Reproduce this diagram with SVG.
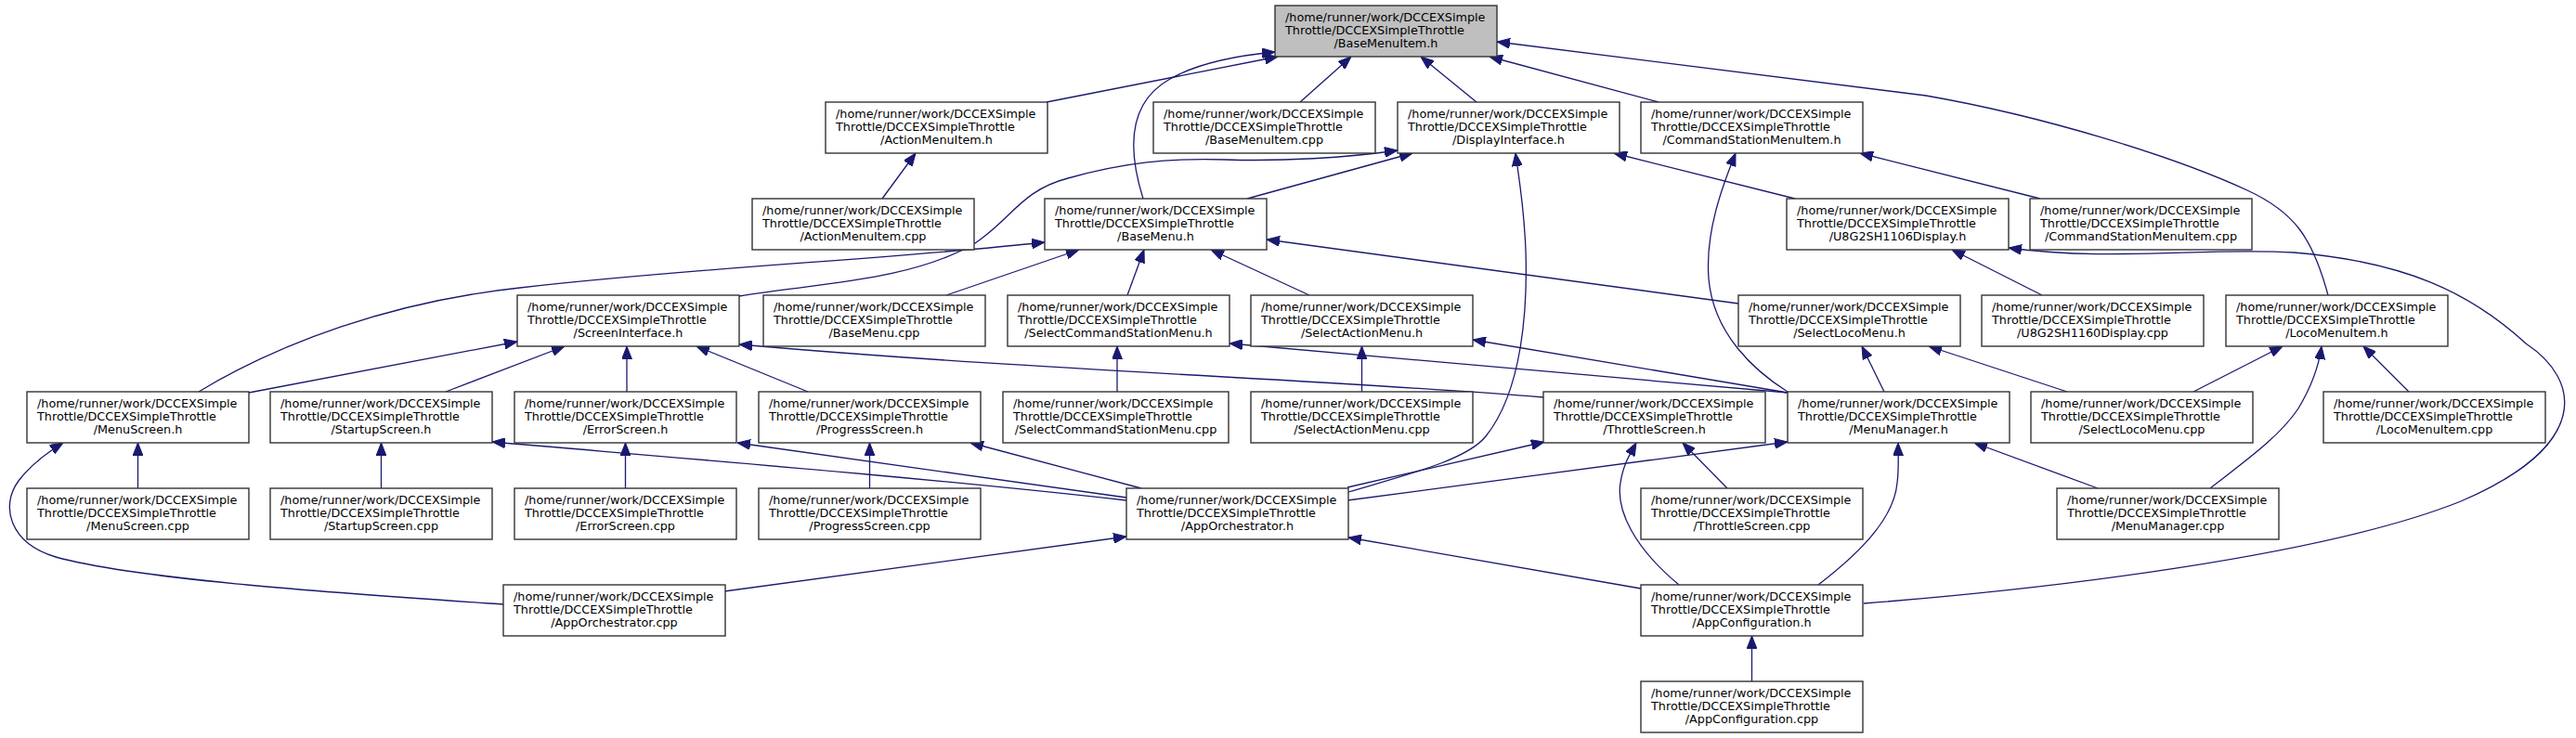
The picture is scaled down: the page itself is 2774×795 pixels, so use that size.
<svg xmlns="http://www.w3.org/2000/svg" width="2774" height="795" viewBox="0 0 2774 795">
<style>
.node rect{fill:#ffffff;stroke:#333333;stroke-width:1.4}
.node rect.root{fill:#bfbfbf}
.node text{font-family:"DejaVu Sans",sans-serif;font-size:12.8px;fill:#000000;transform:translateY(-0.8px)}
.node text.c{text-anchor:middle}
.edges path{fill:none;stroke:#191970;stroke-width:1.3;marker-end:url(#a)}
</style>
<defs>
<marker id="a" viewBox="0 0 14 11" refX="14" refY="5.5" markerWidth="14" markerHeight="11" markerUnits="userSpaceOnUse" orient="auto"><path d="M0,0 L14,5.5 L0,11 z" fill="#191970" stroke="#191970" stroke-width="1"/></marker>
</defs>
<rect width="2774" height="795" fill="#ffffff"/>
<g class="edges" id="edges">
<path d="M1127,110 L1376,61"/>
<path d="M1231,214 C1214,160 1215,110 1260,85 C1290,68 1330,60 1373,56"/>
<path d="M1400,110 L1455,61"/>
<path d="M1590,110 L1530,61"/>
<path d="M1786,110 L1604,61"/>
<path d="M2507,318 C2490,255 2470,228 2420,205 C2340,168 2200,125 2074,103 L1612,45"/>
<path d="M950,214 L986,165"/>
<path d="M796,319 C880,305 980,303 1050,262 C1090,235 1100,205 1150,192 C1210,175 1260,170 1320,172 C1380,174 1450,170 1505,162"/>
<path d="M1343,214 L1521,165"/>
<path d="M1933,214 L1738,165"/>
<path d="M1452,530 C1520,510 1580,495 1600,470 C1640,420 1645,330 1643,270 C1641,220 1636,195 1632,165"/>
<path d="M2197,214 L2003,165"/>
<path d="M1925,422 C1890,400 1845,360 1840,300 C1836,250 1855,200 1869,165"/>
<path d="M1019,318 L1162,269"/>
<path d="M1214,318 L1232,269"/>
<path d="M1410,318 L1304,269"/>
<path d="M1872,327 L1364,258"/>
<path d="M214,422 C300,370 420,325 560,310 C750,288 950,280 1125,261"/>
<path d="M268,423 L557,368"/>
<path d="M480,422 L608,373"/>
<path d="M675,422 L675,373"/>
<path d="M870,422 L750,373"/>
<path d="M1662,428 C1450,410 1100,398 796,371"/>
<path d="M148.5,526 L148.5,477"/>
<path d="M542,651 C380,640 150,625 60,600 C10,585 0,545 20,518 C32,502 50,488 68,477"/>
<path d="M410.5,526 L410.5,477"/>
<path d="M673.5,526 L673.5,477"/>
<path d="M936.5,526 L936.5,477"/>
<path d="M1203,422 L1203,373"/>
<path d="M1466.5,422 L1466.5,373"/>
<path d="M1213,539 C1000,515 750,495 530,476"/>
<path d="M1213,536 L794,477"/>
<path d="M1229,526 L1045,477"/>
<path d="M780,637 L1213,578"/>
<path d="M1451,525 L1663,476"/>
<path d="M1451,539 L1925,476"/>
<path d="M1860,526 L1812,477"/>
<path d="M1808,630 C1760,590 1740,550 1745,520 C1748,500 1755,490 1762,477"/>
<path d="M1958,630 C2010,590 2040,555 2043,520 C2045,505 2044,490 2044,477"/>
<path d="M1767,634 L1452,579"/>
<path d="M1886.5,734 L1886.5,685"/>
<path d="M2007,650 C2200,635 2500,600 2650,540 C2790,480 2780,410 2720,370 C2660,315 2590,282 2470,272 C2380,266 2270,282 2163,267"/>
<path d="M2199,318 L2102,269"/>
<path d="M2259,526 L2126,477"/>
<path d="M2380,526 C2420,495 2455,470 2475,440 C2490,415 2497,395 2500,373"/>
<path d="M2226,422 L2077,373"/>
<path d="M2362,422 L2458,373"/>
<path d="M2594,422 L2545,373"/>
<path d="M2029,422 L2005,373"/>
<path d="M1925,423 L1586,366"/>
<path d="M1925,423 L1324,370"/>
</g>
<g class="node" id="BaseMenuItem_h"><rect class="root" x="1373" y="6" width="239" height="55"/><text x="1384" y="24">/home/runner/work/DCCEXSimple</text><text x="1384" y="37.7">Throttle/DCCEXSimpleThrottle</text><text class="c" x="1492.5" y="51.4">/BaseMenuItem.h</text></g>
<g class="node" id="ActionMenuItem_h"><rect x="889" y="110" width="239" height="55"/><text x="900" y="128">/home/runner/work/DCCEXSimple</text><text x="900" y="141.7">Throttle/DCCEXSimpleThrottle</text><text class="c" x="1008.5" y="155.4">/ActionMenuItem.h</text></g>
<g class="node" id="BaseMenuItem_cpp"><rect x="1242" y="110" width="239" height="55"/><text x="1253" y="128">/home/runner/work/DCCEXSimple</text><text x="1253" y="141.7">Throttle/DCCEXSimpleThrottle</text><text class="c" x="1361.5" y="155.4">/BaseMenuItem.cpp</text></g>
<g class="node" id="DisplayInterface_h"><rect x="1505" y="110" width="239" height="55"/><text x="1516" y="128">/home/runner/work/DCCEXSimple</text><text x="1516" y="141.7">Throttle/DCCEXSimpleThrottle</text><text class="c" x="1624.5" y="155.4">/DisplayInterface.h</text></g>
<g class="node" id="CommandStationMenuItem_h"><rect x="1767" y="110" width="239" height="55"/><text x="1778" y="128">/home/runner/work/DCCEXSimple</text><text x="1778" y="141.7">Throttle/DCCEXSimpleThrottle</text><text class="c" x="1886.5" y="155.4">/CommandStationMenuItem.h</text></g>
<g class="node" id="ActionMenuItem_cpp"><rect x="810" y="214" width="239" height="55"/><text x="821" y="232">/home/runner/work/DCCEXSimple</text><text x="821" y="245.7">Throttle/DCCEXSimpleThrottle</text><text class="c" x="929.5" y="259.4">/ActionMenuItem.cpp</text></g>
<g class="node" id="BaseMenu_h"><rect x="1125" y="214" width="239" height="55"/><text x="1136" y="232">/home/runner/work/DCCEXSimple</text><text x="1136" y="245.7">Throttle/DCCEXSimpleThrottle</text><text class="c" x="1244.5" y="259.4">/BaseMenu.h</text></g>
<g class="node" id="U8G2SH1106Display_h"><rect x="1924" y="214" width="239" height="55"/><text x="1935" y="232">/home/runner/work/DCCEXSimple</text><text x="1935" y="245.7">Throttle/DCCEXSimpleThrottle</text><text class="c" x="2043.5" y="259.4">/U8G2SH1106Display.h</text></g>
<g class="node" id="CommandStationMenuItem_cpp"><rect x="2186" y="214" width="239" height="55"/><text x="2197" y="232">/home/runner/work/DCCEXSimple</text><text x="2197" y="245.7">Throttle/DCCEXSimpleThrottle</text><text class="c" x="2305.5" y="259.4">/CommandStationMenuItem.cpp</text></g>
<g class="node" id="ScreenInterface_h"><rect x="557" y="318" width="239" height="55"/><text x="568" y="336">/home/runner/work/DCCEXSimple</text><text x="568" y="349.7">Throttle/DCCEXSimpleThrottle</text><text class="c" x="676.5" y="363.4">/ScreenInterface.h</text></g>
<g class="node" id="BaseMenu_cpp"><rect x="822" y="318" width="239" height="55"/><text x="833" y="336">/home/runner/work/DCCEXSimple</text><text x="833" y="349.7">Throttle/DCCEXSimpleThrottle</text><text class="c" x="941.5" y="363.4">/BaseMenu.cpp</text></g>
<g class="node" id="SelectCommandStationMenu_h"><rect x="1085" y="318" width="239" height="55"/><text x="1096" y="336">/home/runner/work/DCCEXSimple</text><text x="1096" y="349.7">Throttle/DCCEXSimpleThrottle</text><text class="c" x="1204.5" y="363.4">/SelectCommandStationMenu.h</text></g>
<g class="node" id="SelectActionMenu_h"><rect x="1347" y="318" width="239" height="55"/><text x="1358" y="336">/home/runner/work/DCCEXSimple</text><text x="1358" y="349.7">Throttle/DCCEXSimpleThrottle</text><text class="c" x="1466.5" y="363.4">/SelectActionMenu.h</text></g>
<g class="node" id="SelectLocoMenu_h"><rect x="1872" y="318" width="239" height="55"/><text x="1883" y="336">/home/runner/work/DCCEXSimple</text><text x="1883" y="349.7">Throttle/DCCEXSimpleThrottle</text><text class="c" x="1991.5" y="363.4">/SelectLocoMenu.h</text></g>
<g class="node" id="U8G2SH1160Display_cpp"><rect x="2134" y="318" width="239" height="55"/><text x="2145" y="336">/home/runner/work/DCCEXSimple</text><text x="2145" y="349.7">Throttle/DCCEXSimpleThrottle</text><text class="c" x="2253.5" y="363.4">/U8G2SH1160Display.cpp</text></g>
<g class="node" id="LocoMenuItem_h"><rect x="2397" y="318" width="239" height="55"/><text x="2408" y="336">/home/runner/work/DCCEXSimple</text><text x="2408" y="349.7">Throttle/DCCEXSimpleThrottle</text><text class="c" x="2516.5" y="363.4">/LocoMenuItem.h</text></g>
<g class="node" id="MenuScreen_h"><rect x="29" y="422" width="239" height="55"/><text x="40" y="440">/home/runner/work/DCCEXSimple</text><text x="40" y="453.7">Throttle/DCCEXSimpleThrottle</text><text class="c" x="148.5" y="467.4">/MenuScreen.h</text></g>
<g class="node" id="StartupScreen_h"><rect x="291" y="422" width="239" height="55"/><text x="302" y="440">/home/runner/work/DCCEXSimple</text><text x="302" y="453.7">Throttle/DCCEXSimpleThrottle</text><text class="c" x="410.5" y="467.4">/StartupScreen.h</text></g>
<g class="node" id="ErrorScreen_h"><rect x="554" y="422" width="239" height="55"/><text x="565" y="440">/home/runner/work/DCCEXSimple</text><text x="565" y="453.7">Throttle/DCCEXSimpleThrottle</text><text class="c" x="673.5" y="467.4">/ErrorScreen.h</text></g>
<g class="node" id="ProgressScreen_h"><rect x="817" y="422" width="239" height="55"/><text x="828" y="440">/home/runner/work/DCCEXSimple</text><text x="828" y="453.7">Throttle/DCCEXSimpleThrottle</text><text class="c" x="936.5" y="467.4">/ProgressScreen.h</text></g>
<g class="node" id="SelectCommandStationMenu_cpp"><rect x="1080" y="422" width="243" height="55"/><text x="1091" y="440">/home/runner/work/DCCEXSimple</text><text x="1091" y="453.7">Throttle/DCCEXSimpleThrottle</text><text class="c" x="1201.5" y="467.4">/SelectCommandStationMenu.cpp</text></g>
<g class="node" id="SelectActionMenu_cpp"><rect x="1347" y="422" width="239" height="55"/><text x="1358" y="440">/home/runner/work/DCCEXSimple</text><text x="1358" y="453.7">Throttle/DCCEXSimpleThrottle</text><text class="c" x="1466.5" y="467.4">/SelectActionMenu.cpp</text></g>
<g class="node" id="ThrottleScreen_h"><rect x="1662" y="422" width="239" height="55"/><text x="1673" y="440">/home/runner/work/DCCEXSimple</text><text x="1673" y="453.7">Throttle/DCCEXSimpleThrottle</text><text class="c" x="1781.5" y="467.4">/ThrottleScreen.h</text></g>
<g class="node" id="MenuManager_h"><rect x="1925" y="422" width="239" height="55"/><text x="1936" y="440">/home/runner/work/DCCEXSimple</text><text x="1936" y="453.7">Throttle/DCCEXSimpleThrottle</text><text class="c" x="2044.5" y="467.4">/MenuManager.h</text></g>
<g class="node" id="SelectLocoMenu_cpp"><rect x="2187" y="422" width="239" height="55"/><text x="2198" y="440">/home/runner/work/DCCEXSimple</text><text x="2198" y="453.7">Throttle/DCCEXSimpleThrottle</text><text class="c" x="2306.5" y="467.4">/SelectLocoMenu.cpp</text></g>
<g class="node" id="LocoMenuItem_cpp"><rect x="2502" y="422" width="239" height="55"/><text x="2513" y="440">/home/runner/work/DCCEXSimple</text><text x="2513" y="453.7">Throttle/DCCEXSimpleThrottle</text><text class="c" x="2621.5" y="467.4">/LocoMenuItem.cpp</text></g>
<g class="node" id="MenuScreen_cpp"><rect x="29" y="526" width="239" height="55"/><text x="40" y="544">/home/runner/work/DCCEXSimple</text><text x="40" y="557.7">Throttle/DCCEXSimpleThrottle</text><text class="c" x="148.5" y="571.4">/MenuScreen.cpp</text></g>
<g class="node" id="StartupScreen_cpp"><rect x="291" y="526" width="239" height="55"/><text x="302" y="544">/home/runner/work/DCCEXSimple</text><text x="302" y="557.7">Throttle/DCCEXSimpleThrottle</text><text class="c" x="410.5" y="571.4">/StartupScreen.cpp</text></g>
<g class="node" id="ErrorScreen_cpp"><rect x="554" y="526" width="239" height="55"/><text x="565" y="544">/home/runner/work/DCCEXSimple</text><text x="565" y="557.7">Throttle/DCCEXSimpleThrottle</text><text class="c" x="673.5" y="571.4">/ErrorScreen.cpp</text></g>
<g class="node" id="ProgressScreen_cpp"><rect x="817" y="526" width="239" height="55"/><text x="828" y="544">/home/runner/work/DCCEXSimple</text><text x="828" y="557.7">Throttle/DCCEXSimpleThrottle</text><text class="c" x="936.5" y="571.4">/ProgressScreen.cpp</text></g>
<g class="node" id="AppOrchestrator_h"><rect x="1213" y="526" width="239" height="55"/><text x="1224" y="544">/home/runner/work/DCCEXSimple</text><text x="1224" y="557.7">Throttle/DCCEXSimpleThrottle</text><text class="c" x="1332.5" y="571.4">/AppOrchestrator.h</text></g>
<g class="node" id="ThrottleScreen_cpp"><rect x="1767" y="526" width="239" height="55"/><text x="1778" y="544">/home/runner/work/DCCEXSimple</text><text x="1778" y="557.7">Throttle/DCCEXSimpleThrottle</text><text class="c" x="1886.5" y="571.4">/ThrottleScreen.cpp</text></g>
<g class="node" id="MenuManager_cpp"><rect x="2215" y="526" width="239" height="55"/><text x="2226" y="544">/home/runner/work/DCCEXSimple</text><text x="2226" y="557.7">Throttle/DCCEXSimpleThrottle</text><text class="c" x="2334.5" y="571.4">/MenuManager.cpp</text></g>
<g class="node" id="AppOrchestrator_cpp"><rect x="542" y="630" width="239" height="55"/><text x="553" y="648">/home/runner/work/DCCEXSimple</text><text x="553" y="661.7">Throttle/DCCEXSimpleThrottle</text><text class="c" x="661.5" y="675.4">/AppOrchestrator.cpp</text></g>
<g class="node" id="AppConfiguration_h"><rect x="1767" y="630" width="239" height="55"/><text x="1778" y="648">/home/runner/work/DCCEXSimple</text><text x="1778" y="661.7">Throttle/DCCEXSimpleThrottle</text><text class="c" x="1886.5" y="675.4">/AppConfiguration.h</text></g>
<g class="node" id="AppConfiguration_cpp"><rect x="1767" y="734" width="239" height="55"/><text x="1778" y="752">/home/runner/work/DCCEXSimple</text><text x="1778" y="765.7">Throttle/DCCEXSimpleThrottle</text><text class="c" x="1886.5" y="779.4">/AppConfiguration.cpp</text></g>
</svg>
